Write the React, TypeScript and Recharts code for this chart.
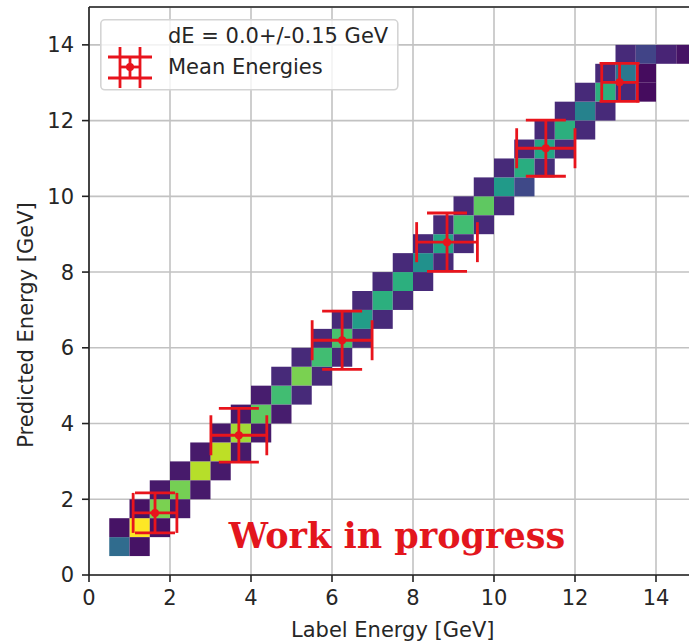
import React from 'react';
import {
  ComposedChart,
  XAxis,
  YAxis,
  CartesianGrid,
  ReferenceArea,
  ReferenceLine,
  ReferenceDot,
  Scatter,
  ErrorBar,
  Legend,
  Label,
} from 'recharts';

// 2D histogram of predicted vs label energy, 0.5 GeV bins
const BIN = 0.5;
const binLow = [
  0.5, 1.0, 1.5, 2.0, 2.5, 3.0, 3.5, 4.0, 4.5, 5.0, 5.5, 6.0, 6.5, 7.0,
  7.5, 8.0, 8.5, 9.0, 9.5, 10.0, 10.5, 11.0, 11.5, 12.0, 12.5, 13.0, 13.5,
];
// normalised density on the diagonal bins
const diagonal = [
  0.35, 1.0, 0.8, 0.79, 0.89, 0.9, 0.86, 0.75, 0.69, 0.8, 0.69, 0.71, 0.55, 0.63,
  0.63, 0.5, 0.58, 0.69, 0.75, 0.54, 0.62, 0.59, 0.63, 0.44, 0.63, 0.4, 0.2,
];
// one bin to the right of the diagonal (label higher than prediction)
const belowDiag = [
  0.05, 0.05, 0.07, 0.07, 0.07, 0.07, 0.07, 0.08, 0.12, 0.12, 0.12, 0.12, 0.12, 0.12,
  0.12, 0.12, 0.12, 0.12, 0.12, 0.22, 0.13, 0.12, 0.12, 0.12, 0.12, 0.03, 0.1,
];
// one bin above the diagonal
const aboveDiag = [
  0.05, 0.05, 0.07, 0.07, 0.07, 0.07, 0.07, 0.08, 0.12, 0.12, 0.12, 0.12, 0.12,
  0.12, 0.12, 0.12, 0.12, 0.12, 0.12, 0.12, 0.12, 0.12, 0.12, 0.12, 0.12, 0.12,
];
const extraCells = [
  { x: 14.5, y: 13.5, v: 0.05 },
  { x: 13.5, y: 12.5, v: 0.03 },
];

// mean energies with spreads
const meanLabel = [1.63, 3.7, 6.25, 8.84, 11.28, 13.1];
const meanPred = [1.64, 3.69, 6.2, 8.79, 11.27, 13.01];
const errLabel = [0.54, 0.69, 0.74, 0.75, 0.72, 0.44];
const errPred = [0.53, 0.71, 0.77, 0.77, 0.74, 0.5];

const xTicks = [0, 2, 4, 6, 8, 10, 12, 14];
const yTicks = [0, 2, 4, 6, 8, 10, 12, 14];
const legendTitle = 'dE = 0.0+/-0.15 GeV';
const watermark = 'Work in progress';

const VIRIDIS = [
  '#440154', '#482475', '#414487', '#355f8d', '#2a788e', '#21918c',
  '#22a884', '#44bf70', '#7ad151', '#bddf26', '#fde725',
];
const hexRgb = (h: string) => [1, 3, 5].map(k => parseInt(h.slice(k, k + 2), 16));
function viridis(t: number) {
  const p = Math.min(Math.max(t, 0), 1) * (VIRIDIS.length - 1);
  const i = Math.min(Math.floor(p), VIRIDIS.length - 2);
  const f = p - i;
  const a = hexRgb(VIRIDIS[i]);
  const b = hexRgb(VIRIDIS[i + 1]);
  const c = a.map((v, k) => Math.round(v + (b[k] - v) * f));
  return `rgb(${c.join(',')})`;
}

const cells = [
  ...binLow.map((lo, k) => ({ x: lo, y: lo, v: diagonal[k] })),
  ...binLow.map((lo, k) => ({ x: lo + BIN, y: lo, v: belowDiag[k] })),
  ...aboveDiag.map((v, k) => ({ x: binLow[k], y: binLow[k] + BIN, v })),
  ...extraCells,
];

const means = meanLabel.map((x, k) => ({ x, y: meanPred[k], ex: errLabel[k], ey: errPred[k] }));

const RED = '#e8141c';
const TEXT = '#262626';
const FONT = 'DejaVu Sans';

const renderDot = (p: any) => <circle cx={p.cx} cy={p.cy} r={4} fill={RED} />;

const XLabelContent = (props: any) => {
  const vb = props.viewBox ?? { x: 89, y: 575, width: 607.5, height: 60 };
  return (
    <text x={vb.x + vb.width / 2} y={vb.y + 62} textAnchor="middle" fill={TEXT} fontSize={21} fontFamily={FONT}>
      Label Energy [GeV]
    </text>
  );
};

const YLabelContent = (props: any) => {
  const vb = props.viewBox ?? { x: 29, y: 7, width: 60, height: 568 };
  const x0 = vb.x + 4;
  // the label sits a little below the middle of the axis in the source
  const yc = vb.y + vb.height / 2 + 34;
  return (
    <text x={x0} y={yc} transform={`rotate(-90, ${x0}, ${yc})`} textAnchor="middle" fill={TEXT} fontSize={21} fontFamily={FONT}>
      Predicted Energy [GeV]
    </text>
  );
};

const LegendBox = (props: any) => {
  const entry = (props.payload || []).find((p: any) => p.value);
  const name = entry ? entry.value : 'Mean Energies';
  return (
    <svg width={300} height={73} style={{ display: 'block' }}>
      <rect x={0.8} y={0.8} width={297} height={70} rx={4} fill="#fff" fillOpacity={0.8} stroke="#d4d4d4" strokeWidth={1.6} />
      <text x={68} y={24} fill={TEXT} fontSize={21} fontFamily={FONT}>{legendTitle}</text>
      <text x={68} y={55} fill={TEXT} fontSize={21} fontFamily={FONT}>{name}</text>
      <g stroke={RED} strokeWidth={2.8}>
        <line x1={20} y1={48} x2={40} y2={48} />
        <line x1={30} y1={38} x2={30} y2={59} />
        <line x1={20} y1={28} x2={20} y2={69} />
        <line x1={40} y1={28} x2={40} y2={69} />
        <line x1={8} y1={38} x2={52} y2={38} />
        <line x1={8} y1={59} x2={52} y2={59} />
      </g>
      <circle cx={30} cy={48} r={4} fill={RED} />
    </svg>
  );
};

export default function App() {
  return (
    <div
      style={{
        position: 'absolute',
        left: 0,
        top: 0,
        width: 689,
        height: 641,
        overflow: 'hidden',
        background: '#fff',
        fontFamily: FONT,
      }}
    >
      <ComposedChart width={720} height={641} margin={{ top: 7, right: 23.5, bottom: 6, left: 29 }}>
        <CartesianGrid stroke="#c2c2c2" strokeWidth={1.6} />
        <XAxis
          type="number"
          dataKey="x"
          domain={[0, 15]}
          ticks={xTicks}
          interval={0}
          allowDataOverflow
          height={60}
          tickSize={7}
          tickMargin={8}
          axisLine={{ stroke: '#222', strokeWidth: 1.6 }}
          tickLine={{ stroke: '#222', strokeWidth: 1.6 }}
          tick={{ fill: TEXT, fontSize: 21, fontFamily: FONT }}
        >
          <Label content={XLabelContent} />
        </XAxis>
        <YAxis
          type="number"
          dataKey="y"
          domain={[0, 15]}
          ticks={yTicks}
          interval={0}
          allowDataOverflow
          width={60}
          tickSize={7}
          tickMargin={8}
          axisLine={{ stroke: '#222', strokeWidth: 1.6 }}
          tickLine={{ stroke: '#222', strokeWidth: 1.6 }}
          tick={{ fill: TEXT, fontSize: 21, fontFamily: FONT }}
        >
          <Label content={YLabelContent} />
        </YAxis>
        <ReferenceLine y={15} stroke="#222" strokeWidth={1.6} />

        {cells.map((c, k) => (
          <ReferenceArea
            key={`cell-${k}`}
            x1={c.x}
            x2={c.x + BIN}
            y1={c.y}
            y2={c.y + BIN}
            fill={viridis(c.v)}
            fillOpacity={1}
            stroke="none"
          />
        ))}

        <ReferenceDot
          x={3.45}
          y={1.05}
          r={0}
          fill="none"
          stroke="none"
          label={{
            value: watermark,
            position: 'right',
            offset: 0,
            fill: '#e3161d',
            fontSize: 35,
            fontFamily: 'DejaVu Serif',
            fontWeight: 'bold',
          }}
        />

        <Scatter data={means} name="Mean Energies" fill={RED} shape={renderDot} isAnimationActive={false}>
          <ErrorBar dataKey="ex" direction="x" width={20} stroke={RED} strokeWidth={2.8} />
          <ErrorBar dataKey="ey" direction="y" width={20} stroke={RED} strokeWidth={2.8} />
        </Scatter>

        <Legend
          layout="vertical"
          align="center"
          verticalAlign="middle"
          wrapperStyle={{ left: 100, top: 19, width: 'auto' }}
          content={LegendBox}
        />
      </ComposedChart>
    </div>
  );
}
